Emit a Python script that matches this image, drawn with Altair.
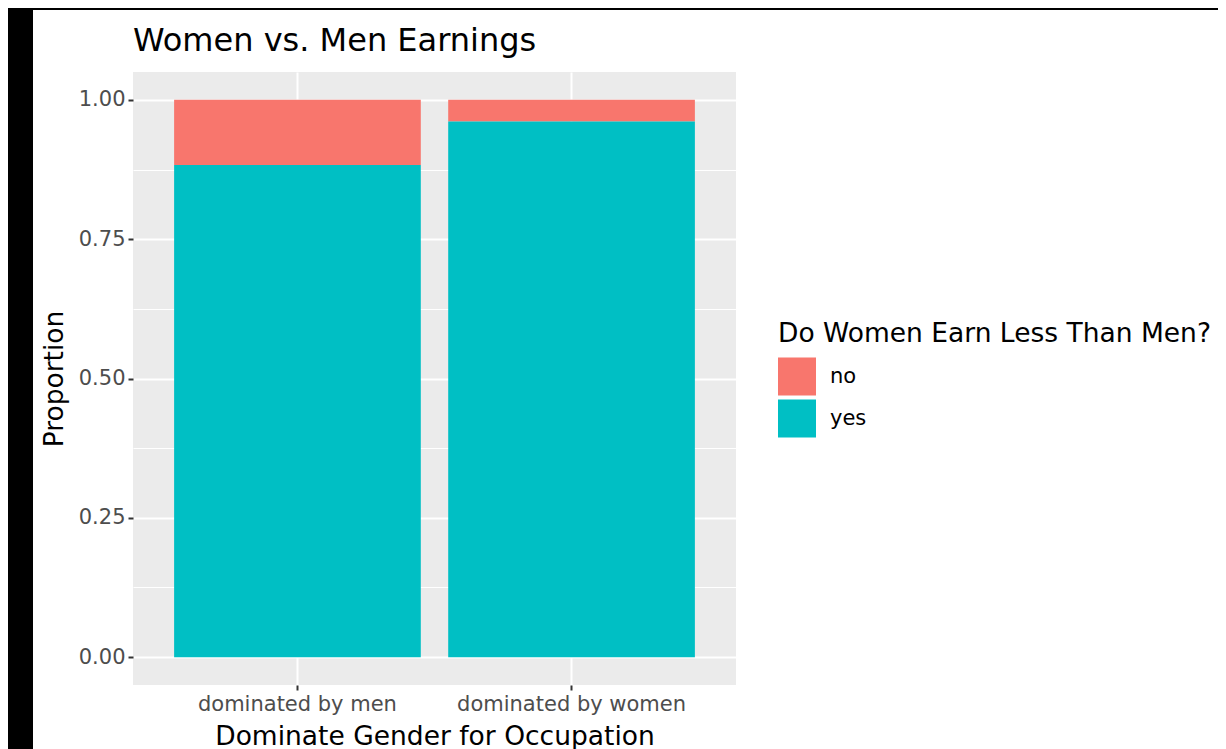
import altair as alt
import pandas as pd

groups = ["dominated by men", "dominated by women"]
share_yes = [0.883, 0.961]
share_no = [0.117, 0.039]
answers = ["no", "yes"]
colors = ["#F8766D", "#00BFC4"]
y_ticks = [0, 0.125, 0.25, 0.375, 0.5, 0.625, 0.75, 0.875, 1.0]

rows = []
for g, y, n in zip(groups, share_yes, share_no):
    rows.append({"group": g, "answer": "no", "prop": n})
    rows.append({"group": g, "answer": "yes", "prop": y})
df = pd.DataFrame(rows)

FONT = "DejaVu Sans"
W, H = 603, 613

minor_test = "round(datum.value * 8) % 2 == 1"

bars = alt.Chart(df).mark_bar(opacity=1).encode(
    x=alt.X(
        "group:N",
        sort=groups,
        scale=alt.Scale(paddingInner=0.1, paddingOuter=0.15),
        axis=alt.Axis(
            title="Dominate Gender for Occupation",
            labelAngle=0,
            labelLimit=0,
            bandPosition=0.5,
            domain=False,
            grid=True,
            gridColor="white",
            gridWidth=2,
            tickColor="#333333",
            tickWidth=2,
            tickSize=5,
            labelFontSize=21,
            labelColor="#4D4D4D",
            labelPadding=3,
            labelFont=FONT,
            titleFont=FONT,
            titleFontSize=26.5,
            titleFontWeight="normal",
            titleColor="black",
            titlePadding=9,
            titleLimit=0,
        ),
    ),
    y=alt.Y(
        "prop:Q",
        stack="zero",
        scale=alt.Scale(domain=[-0.05, 1.05], nice=False, zero=False),
        axis=alt.Axis(
            title="Proportion",
            values=y_ticks,
            labelExpr="round(datum.value * 8) % 2 == 1 ? '' : format(datum.value, '.2f')",
            domain=False,
            grid=True,
            gridColor="white",
            gridWidth={"condition": {"test": minor_test, "value": 1}, "value": 2},
            tickColor={"condition": {"test": minor_test, "value": "transparent"}, "value": "#333333"},
            tickWidth=2,
            tickSize=5,
            labelFontSize=21,
            labelColor="#4D4D4D",
            labelPadding=3,
            labelFont=FONT,
            titleFont=FONT,
            titleFontSize=26.5,
            titleFontWeight="normal",
            titleColor="black",
            titlePadding=10,
        ),
    ),
    color=alt.Color(
        "answer:N",
        scale=alt.Scale(domain=answers, range=colors),
        legend=alt.Legend(
            title="Do Women Earn Less Than Men?",
            orient="none",
            legendX=645,
            legendY=249,
            titleFont=FONT,
            titleFontSize=26.5,
            titleFontWeight="normal",
            titleColor="black",
            titlePadding=10,
            titleLimit=0,
            labelLimit=0,
            labelFont=FONT,
            labelFontSize=21,
            labelColor="black",
            labelOffset=14,
            symbolType="square",
            symbolSize=1444,
            symbolStrokeWidth=0,
            symbolOpacity=1,
            rowPadding=4,
        ),
    ),
    order=alt.Order("answer:N", sort="descending"),
)

border = alt.Chart(pd.DataFrame({"k": [0]})).mark_rect(color="black").encode(
    x=alt.value(-125), x2=alt.value(-100), y=alt.value(-64), y2=alt.value(H + 66)
)
border_top = alt.Chart(pd.DataFrame({"k": [0]})).mark_rect(color="black").encode(
    x=alt.value(-125), x2=alt.value(1085), y=alt.value(-64), y2=alt.value(-62)
)

chart = alt.layer(border, border_top, bars).properties(
    width=W,
    height=H,
    padding={"left": 125, "top": 64, "right": 482, "bottom": 66},
    autosize=alt.AutoSizeParams(type="none"),
    background="white",
    title=alt.TitleParams(
        "Women vs. Men Earnings",
        anchor="start",
        frame="group",
        font=FONT,
        fontSize=32,
        fontWeight="normal",
        color="black",
        offset=0,
        dy=50,
    ),
).configure_view(fill="#EBEBEB", stroke=None)

chart.save("out.html", embed_options={"renderer": "svg", "actions": False})
